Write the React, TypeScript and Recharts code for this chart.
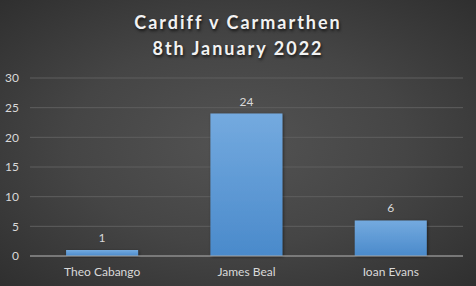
import React from "react";
import { BarChart, Bar, XAxis, YAxis, CartesianGrid, LabelList } from "recharts";

const players = ["Theo Cabango", "James Beal", "Ioan Evans"];
const values = [1, 24, 6];
const yTicks = [0, 5, 10, 15, 20, 25, 30];
const titleLines = ["Cardiff v Carmarthen", "8th January 2022"];

const data = players.map((name, i) => ({ name, value: values[i] }));

const FONT = "Lato, 'Open Sans', sans-serif";

export default function App() {
  return (
    <div
      style={{
        position: "absolute",
        left: 0,
        top: 0,
        width: 476,
        height: 286,
        background: "radial-gradient(ellipse at center, #535353 0%, #454545 50%, #2f2f2f 100%)",
        fontFamily: FONT,
        overflow: "hidden",
      }}
    >
      <div
        style={{
          position: "absolute",
          left: 0,
          top: 9,
          width: 476,
          textAlign: "center",
          color: "#f2f2f2",
          fontWeight: 700,
          fontSize: 18,
          lineHeight: "26px",
          letterSpacing: 2,
          textShadow: "1px 2px 3px rgba(0,0,0,0.7)",
        }}
      >
        {titleLines.map((t) => (
          <div key={t}>{t}</div>
        ))}
      </div>
      <div style={{ position: "absolute", left: 0, top: 0 }}>
        <BarChart
          width={476}
          height={286}
          data={data}
          margin={{ top: 78, right: 13, left: 0, bottom: 0 }}
          barCategoryGap="25%"
        >
          <defs>
            <linearGradient id="barGrad" x1="0" y1="0" x2="0" y2="1">
              <stop offset="0%" stopColor="#74aadf" />
              <stop offset="100%" stopColor="#4a8acb" />
            </linearGradient>
            <filter id="barShadow" x="-20%" y="-20%" width="140%" height="140%">
              <feDropShadow dx="1" dy="1" stdDeviation="1.5" floodColor="#000" floodOpacity="0.5" />
            </filter>
          </defs>
          <CartesianGrid vertical={false} stroke="#5e5e5e" strokeWidth={1} />
          <XAxis
            dataKey="name"
            height={30}
            tickSize={0}
            tickMargin={11}
            axisLine={{ stroke: "#a6a6a6", strokeWidth: 1 }}
            tick={{ fill: "#d9d9d9", fontSize: 12, fontFamily: FONT }}
          />
          <YAxis
            width={30}
            domain={[0, 30]}
            ticks={yTicks}
            tickSize={0}
            tickMargin={11}
            axisLine={false}
            tick={{ fill: "#d9d9d9", fontSize: 12, fontFamily: FONT }}
          />
          <Bar dataKey="value" fill="url(#barGrad)" isAnimationActive={false} filter="url(#barShadow)">
            <LabelList
              dataKey="value"
              position="top"
              offset={8}
              fill="#d9d9d9"
              fontSize={12}
              fontFamily={FONT}
            />
          </Bar>
        </BarChart>
      </div>
    </div>
  );
}
